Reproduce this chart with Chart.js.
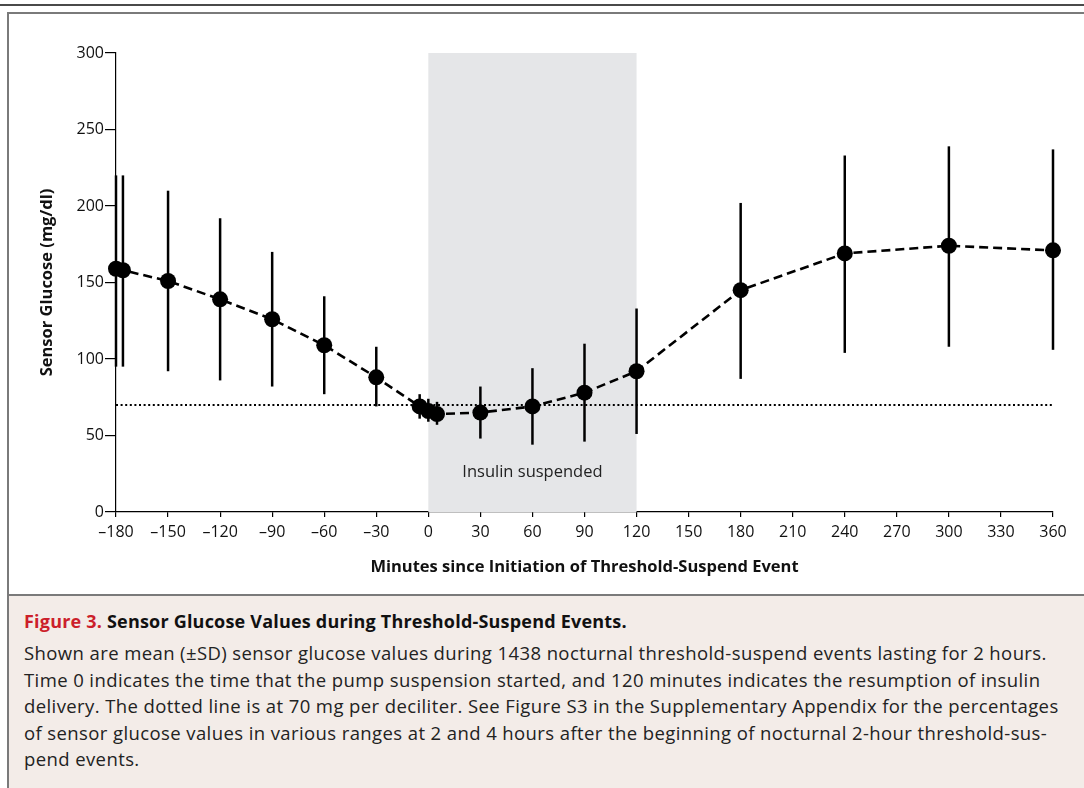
<!DOCTYPE html>
<html>
<head>
<meta charset="utf-8">
<script src="https://cdn.jsdelivr.net/npm/chart.js@4/dist/chart.umd.min.js"></script>
<style>
    body { margin: 0; width: 1084px; height: 788px; background: #fff; overflow: hidden; font-family: "Open Sans", sans-serif; }
    #topRule { position: absolute; left: 0; top: 4px; width: 1084px; height: 2px; background: #4a4a4a; }
    #frame { position: absolute; left: 7px; top: 12px; width: 1090px; height: 800px; border-left: 2px solid #7a7a7a; border-top: 2px solid #7a7a7a; }
    #chartBox { position: absolute; left: 9px; top: 14px; width: 1075px; height: 580px; }
    #caption { position: absolute; left: 9px; top: 594px; width: 1075px; height: 194px; background: #f3ece8; border-top: 2px solid #7a7a7a; }
    #caption .title { position: absolute; left: 15px; top: 13px; font-weight: bold; font-size: 18px; letter-spacing: 0.2px; color: #111; white-space: nowrap; }
    #caption .title span { color: #cc1f2b; }
    #caption .body { position: absolute; left: 15px; top: 44px; font-size: 18.5px; letter-spacing: 0.4px; line-height: 26.5px; color: #222; white-space: nowrap; }
</style>
</head>
<body>
<div id="topRule"></div>
<div id="frame"></div>
<div id="chartBox"><canvas id="myChart"></canvas></div>
<div id="caption">
    <div class="title"><span>Figure 3.</span> Sensor Glucose Values during Threshold-Suspend Events.</div>
    <div class="body">
        Shown are mean (±SD) sensor glucose values during 1438 nocturnal threshold-suspend events lasting for 2 hours.<br>
        Time 0 indicates the time that the pump suspension started, and 120 minutes indicates the resumption of insulin<br>
        delivery. The dotted line is at 70 mg per deciliter. See Figure S3 in the Supplementary Appendix for the percentages<br>
        of sensor glucose values in various ranges at 2 and 4 hours after the beginning of nocturnal 2-hour threshold-sus-<br>
        pend events.
    </div>
</div>
<script>
// values
const minutes = [-180, -176, -150, -120, -90, -60, -30, -5, 0, 5, 30, 60, 90, 120, 180, 240, 300, 360];
const meanGlucose = [159, 158, 151, 139, 126, 109, 88, 69, 66, 64, 65, 69, 78, 92, 145, 169, 174, 171];
const sdLow = [95, 95, 92, 86, 82, 77, 69, 61, 59, 57, 48, 44, 46, 51, 87, 104, 108, 106];
const sdHigh = [220, 220, 210, 192, 170, 141, 108, 77, 74, 72, 82, 94, 110, 133, 202, 233, 239, 237];

const xTicks = [-180, -150, -120, -90, -60, -30, 0, 30, 60, 90, 120, 150, 180, 210, 240, 270, 300, 330, 360];
const yTicks = [0, 50, 100, 150, 200, 250, 300];

const thresholdLine = 70;
const suspendStart = 0;
const suspendEnd = 120;
const suspendLabel = 'Insulin suspended';
const suspendLabelY = 26;

const points = minutes.map((m, i) => ({ x: m, y: meanGlucose[i] }));

// shaded suspension band + text
const bandPlugin = {
    id: 'band',
    beforeDatasetsDraw(chart) {
        const { ctx, scales: { x, y } } = chart;
        const x0 = x.getPixelForValue(suspendStart);
        const x1 = x.getPixelForValue(suspendEnd);
        const yTop = y.getPixelForValue(y.max);
        const yBot = y.getPixelForValue(y.min);
        ctx.save();
        ctx.fillStyle = '#e5e6e8';
        ctx.fillRect(x0, yTop, x1 - x0, yBot - yTop);
        ctx.fillStyle = '#222';
        ctx.font = '16.5px "Open Sans", sans-serif';
        ctx.textAlign = 'center';
        ctx.textBaseline = 'middle';
        ctx.fillText(suspendLabel, (x0 + x1) / 2, y.getPixelForValue(suspendLabelY));
        ctx.restore();
    }
};

// vertical SD bars
const errorBarPlugin = {
    id: 'errorBars',
    beforeDatasetsDraw(chart) {
        const { ctx, scales: { x, y } } = chart;
        ctx.save();
        ctx.strokeStyle = '#000';
        ctx.lineWidth = 2.5;
        minutes.forEach((m, i) => {
            const px = x.getPixelForValue(m);
            ctx.beginPath();
            ctx.moveTo(px, y.getPixelForValue(sdLow[i]));
            ctx.lineTo(px, y.getPixelForValue(sdHigh[i]));
            ctx.stroke();
        });
        ctx.restore();
    }
};

const ctx = document.getElementById('myChart').getContext('2d');
const myChart = new Chart(ctx, {
    type: 'scatter',
    data: {
        datasets: [
            {
                label: '70 mg/dl',
                data: [{ x: xTicks[0], y: thresholdLine }, { x: xTicks[xTicks.length - 1], y: thresholdLine }],
                showLine: true,
                borderColor: '#000',
                borderWidth: 2,
                borderDash: [2, 2.6],
                pointRadius: 0,
                clip: false,
                order: 2
            },
            {
                label: 'Mean sensor glucose',
                data: points,
                showLine: true,
                borderColor: '#000',
                borderWidth: 2.6,
                borderDash: [9, 5],
                pointRadius: 8,
                pointBackgroundColor: '#000',
                pointBorderColor: '#000',
                pointBorderWidth: 0,
                clip: false,
                order: 1
            }
        ]
    },
    options: {
        responsive: true,
        maintainAspectRatio: false,
        animation: false,
        events: [],
        layout: { padding: { top: 39, right: 31, left: 0, bottom: 0 } },
        plugins: {
            legend: { display: false },
            tooltip: { enabled: false }
        },
        scales: {
            x: {
                type: 'linear',
                min: -180,
                max: 360,
                afterBuildTicks: (scale) => { scale.ticks = xTicks.map(v => ({ value: v })); },
                afterFit: (scale) => { scale.height = 82; },
                grid: { drawOnChartArea: false, drawTicks: true, tickLength: 5, color: '#000', lineWidth: 1.2 },
                border: { display: true, color: '#000', width: 1.2 },
                ticks: {
                    color: '#111',
                    font: { family: '"Open Sans", sans-serif', size: 16 },
                    padding: 6,
                    maxRotation: 0,
                    autoSkip: false,
                    callback: (v) => (v < 0 ? '\u2013' + Math.abs(v) : String(v))
                },
                title: {
                    display: true,
                    text: 'Minutes since Initiation of Threshold-Suspend Event',
                    color: '#111',
                    font: { family: '"Open Sans", sans-serif', size: 16.5, weight: 'bold' },
                    padding: { top: 0, bottom: 17 }
                }
            },
            y: {
                min: 0,
                max: 300,
                afterBuildTicks: (scale) => { scale.ticks = yTicks.map(v => ({ value: v })); },
                afterFit: (scale) => { scale.width = 107; },
                grid: { drawOnChartArea: false, drawTicks: true, tickLength: 11, color: '#000', lineWidth: 1.2 },
                border: { display: true, color: '#000', width: 1.2 },
                ticks: {
                    color: '#111',
                    font: { family: '"Open Sans", sans-serif', size: 16 },
                    padding: 1
                },
                title: {
                    display: true,
                    text: 'Sensor Glucose (mg/dl)',
                    color: '#111',
                    font: { family: '"Open Sans", sans-serif', size: 16.5, weight: 'bold' },
                    padding: { top: 28, bottom: 0 }
                }
            }
        }
    },
    plugins: [bandPlugin, errorBarPlugin]
});
</script>
</body>
</html>
